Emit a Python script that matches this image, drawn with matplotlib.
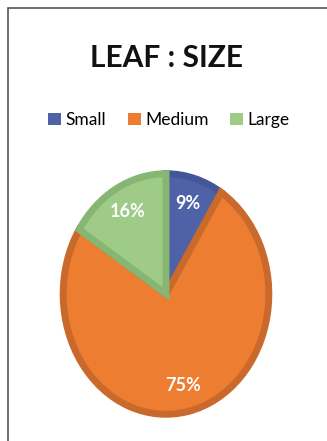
import matplotlib
matplotlib.use("Agg")
import matplotlib.pyplot as plt
from matplotlib.patches import Rectangle, Patch

categories = ["Small", "Medium", "Large"]
values = [9, 75, 16]
colors = ["#4F62A8", "#ED7D31", "#9FCB88"]
edge_colors = ["#44569A", "#C96A2C", "#86B671"]
title = "LEAF : SIZE"

W, H = 327, 441
fig = plt.figure(figsize=(W / 100, H / 100), dpi=100)
fig.patch.set_facecolor("white")

# frame (left & top visible, runs off right/bottom)
fig.add_artist(Rectangle((8 / W, -0.05), 1.2, (H - 8) / H + 0.05, transform=fig.transFigure,
                         fill=False, edgecolor="#555555", linewidth=1.2))

ax = fig.add_axes([60 / W, (H - 418) / H, 212 / W, 248 / H])
wedges, texts, autotexts = ax.pie(values, colors=colors, startangle=90, counterclock=False,
                                  autopct="%d%%", pctdistance=0.78, radius=0.97,
                                  wedgeprops=dict(linewidth=5, joinstyle="miter"),
                                  textprops=dict(color="white", fontsize=13, fontweight="bold",
                                                 family="Lato"))
for w, ec in zip(wedges, edge_colors):
    w.set_edgecolor(ec)
ax.set_aspect("auto")
ax.set_xlim(-1, 1)
ax.set_ylim(-1, 1)
ax.axis("off")

fig.text(166 / W, 1 - 58 / H, title, ha="center", va="center", fontsize=21.5,
         fontweight="bold", family="Lato", color="#111111")

handles = [Patch(facecolor=c, edgecolor="none") for c in colors]
fig.legend(handles, categories, loc="center", bbox_to_anchor=(169 / W, 1 - 120 / H), ncol=3,
           frameon=False, handlelength=0.75, handleheight=0.75, handletextpad=0.25,
           columnspacing=1.25, prop=dict(family="Lato", size=12.5))

fig.savefig("out.png", dpi=100, facecolor="white")
